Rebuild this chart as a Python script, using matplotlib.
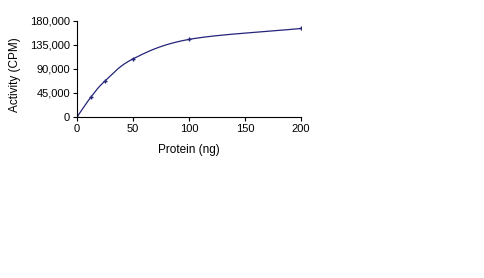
import numpy as np
import matplotlib
matplotlib.use("Agg")
import matplotlib.pyplot as plt
from matplotlib.ticker import FuncFormatter

plt.rcParams["font.family"] = ["Liberation Sans", "DejaVu Sans"]

protein = [0, 12.5, 25, 50, 100, 200]
activity = [0, 37500, 67500, 109000, 145500, 166000]
LINE = "#24247a"


def smooth(xs, ys, sx, sy, n=40):
    # Catmull-Rom through the points, done in (roughly) screen space like Excel
    px = np.array(xs, float) * sx
    py = np.array(ys, float) * sy
    px = np.concatenate([[2 * px[0] - px[1]], px, [2 * px[-1] - px[-2]]])
    py = np.concatenate([[2 * py[0] - py[1]], py, [2 * py[-1] - py[-2]]])
    outx, outy = [], []
    t = np.linspace(0, 1, n)
    for i in range(1, len(px) - 2):
        p0, p1, p2, p3 = [np.array([px[j], py[j]]) for j in (i - 1, i, i + 1, i + 2)]
        c1 = p1 + (p2 - p0) / 6
        c2 = p2 - (p3 - p1) / 6
        b = ((1 - t) ** 3)[:, None] * p1 + (3 * (1 - t) ** 2 * t)[:, None] * c1 \
            + (3 * (1 - t) * t ** 2)[:, None] * c2 + (t ** 3)[:, None] * p2
        outx.extend(b[:, 0])
        outy.extend(b[:, 1])
    return np.array(outx) / sx, np.array(outy) / sy


fig = plt.figure(figsize=(4.84, 2.78), dpi=100)
ax = fig.add_axes([77 / 484, 1 - 117 / 278, 224 / 484, 96 / 278])

cx, cy = smooth(protein, activity, 224 / 200, 96 / 180000)
ax.plot(cx, cy, color=LINE, lw=0.9)
ax.plot(protein, activity, ls="none", marker="+", ms=3, mew=1, color=LINE)

ax.set_xlim(0, 200)
ax.set_ylim(0, 180000)
ax.set_xticks([0, 50, 100, 150, 200])
ax.set_yticks([0, 45000, 90000, 135000, 180000])
ax.yaxis.set_major_formatter(FuncFormatter(lambda v, p: f"{v:,.0f}"))
ax.tick_params(labelsize=8, length=3, width=0.8, pad=2)
for s in ("top", "right"):
    ax.spines[s].set_visible(False)
for s in ("left", "bottom"):
    ax.spines[s].set_linewidth(0.8)
ax.patch.set_visible(False)

fig.text(189 / 484, 1 - 150 / 278, "Protein (ng)", fontsize=8.5,
         ha="center", va="center")
fig.text(15 / 484, 1 - 75 / 278, "Activity (CPM)", fontsize=8.5,
         ha="center", va="center", rotation=90)

fig.savefig("out.png", dpi=100)
